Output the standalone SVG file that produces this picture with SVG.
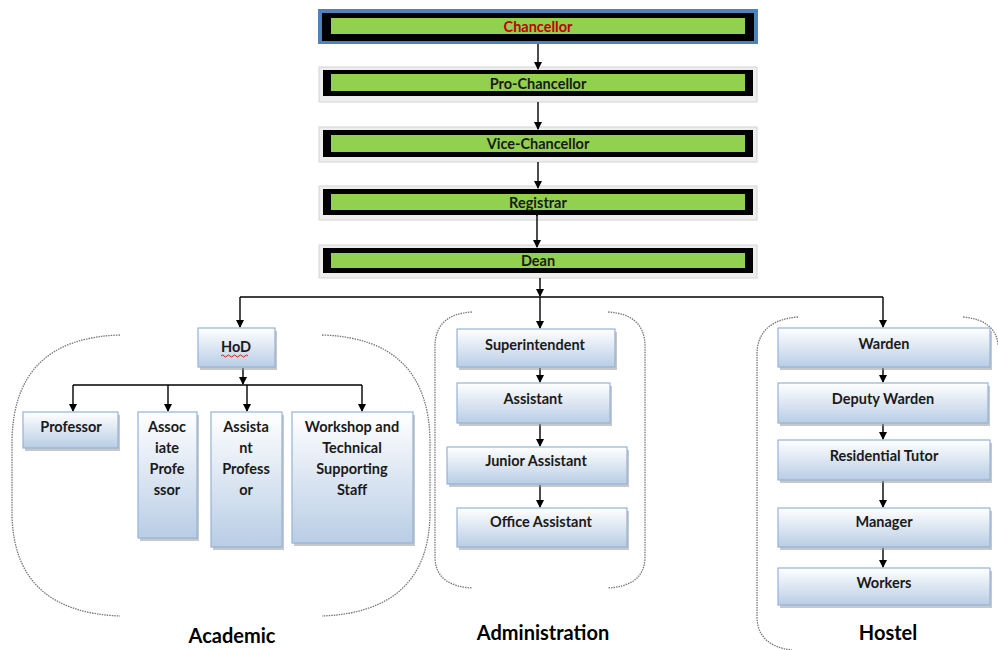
<svg xmlns="http://www.w3.org/2000/svg" width="998" height="650" viewBox="0 0 998 650">
<defs>
<linearGradient id="bg" x1="0" y1="0" x2="0" y2="1">
<stop offset="0" stop-color="#ffffff"/>
<stop offset="1" stop-color="#b9cde5"/>
</linearGradient>
<marker id="ah" markerWidth="8" markerHeight="8" refX="7" refY="4" orient="auto" markerUnits="userSpaceOnUse">
<path d="M0,0 L8,4 L0,8 Z" fill="#000"/>
</marker>
<style>
text{font-family:Lato,"Liberation Sans",Arial,sans-serif;font-weight:bold;fill:#1a1a1a;text-anchor:middle}
.t{font-size:14.5px}
.big{font-size:20px;fill:#000}
.box{fill:url(#bg);stroke:#95b3d7;stroke-width:1.2}
.sh{fill:#9a9a9a;opacity:.55}
.frame{fill:#000}
.green{fill:#92d050}
.outer{fill:#eeeeee;stroke:#d4d4d4;stroke-width:1}
.c{stroke:#000;stroke-width:1.4;fill:none}
.a{stroke:#000;stroke-width:1.4;fill:none;marker-end:url(#ah)}
.dot{stroke:#777;stroke-width:1.3;stroke-dasharray:1.5 1;fill:none}
</style>
</defs>
<rect width="998" height="650" fill="#fff"/>

<g id="brackets">
<path class="dot" d="M120,335 Q14,338 12,440 L12,515 Q14,612 120,616"/>
<path class="dot" d="M322,335 Q428,338 430,440 L430,515 Q428,612 322,616"/>
<path class="dot" d="M472,312 Q436,314 435,345 L435,558 Q436,586 472,588"/>
<path class="dot" d="M608,312 Q644,314 645,345 L645,558 Q644,586 608,588"/>
<path class="dot" d="M798,317 Q759,320 757,352 L757,618 Q758,646 792,650"/>
<path class="dot" d="M963,317 Q996,320 998,345"/>
</g>

<g id="chancellor">
<rect x="318" y="9" width="440" height="35" fill="#4f81bd"/>
<rect class="frame" x="322" y="13" width="432" height="28"/>
<rect class="green" x="331" y="18" width="414" height="16"/>
<text class="t" x="538" y="31.5" style="fill:#c00000">Chancellor</text>
</g>
<g id="pro-chancellor">
<rect class="outer" x="319" y="67" width="438" height="35"/>
<rect class="frame" x="323" y="70" width="430" height="26"/>
<rect class="green" x="331" y="74" width="414" height="17"/>
<text class="t" x="538" y="88.5">Pro-Chancellor</text>
</g>
<g id="vice-chancellor">
<rect class="outer" x="319" y="127" width="438" height="35"/>
<rect class="frame" x="323" y="130" width="430" height="27"/>
<rect class="green" x="331" y="135" width="414" height="17"/>
<text class="t" x="538" y="148.5">Vice-Chancellor</text>
</g>
<g id="registrar">
<rect class="outer" x="319" y="186" width="438" height="34"/>
<rect class="frame" x="323" y="189" width="430" height="26"/>
<rect class="green" x="331" y="194" width="414" height="16"/>
<text class="t" x="538" y="207.5">Registrar</text>
</g>
<g id="dean">
<rect class="outer" x="319" y="245" width="438" height="33"/>
<rect class="frame" x="323" y="248" width="430" height="25"/>
<rect class="green" x="331" y="253" width="414" height="15"/>
<text class="t" x="538" y="266">Dean</text>
</g>

<g id="connectors">
<line class="a" x1="538" y1="44" x2="538" y2="69"/>
<line class="a" x1="538" y1="102" x2="538" y2="129"/>
<line class="a" x1="538" y1="162" x2="538" y2="188"/>
<path class="c" d="M533,211 Q537,212 537,216"/>
<line class="a" x1="537" y1="215" x2="537" y2="247"/>
<line class="a" x1="540" y1="278" x2="540" y2="296"/>
<line class="c" x1="240" y1="297" x2="883" y2="297"/>
<line class="a" x1="240" y1="297" x2="240" y2="327"/>
<line class="a" x1="540" y1="297" x2="540" y2="328"/>
<line class="a" x1="883" y1="297" x2="883" y2="327"/>
<line class="a" x1="243" y1="368" x2="243" y2="384"/>
<line class="c" x1="73" y1="385" x2="362" y2="385"/>
<line class="a" x1="73" y1="385" x2="73" y2="411"/>
<line class="a" x1="168" y1="385" x2="168" y2="411"/>
<line class="a" x1="247" y1="385" x2="247" y2="411"/>
<line class="a" x1="362" y1="385" x2="362" y2="411"/>
<line class="a" x1="540" y1="368" x2="540" y2="382"/>
<line class="a" x1="540" y1="424" x2="540" y2="446"/>
<line class="a" x1="540" y1="485" x2="540" y2="507"/>
<line class="a" x1="883" y1="368" x2="883" y2="382"/>
<line class="a" x1="883" y1="424" x2="883" y2="439"/>
<line class="a" x1="883" y1="481" x2="883" y2="507"/>
<line class="a" x1="883" y1="548" x2="883" y2="567"/>
</g>

<g id="hod">
<rect class="sh" x="200" y="331" width="77" height="39"/>
<rect class="box" x="198" y="328" width="77" height="39"/>
<text class="t" x="236" y="352">HoD</text>
<path d="M221,356 q1.5,-2 3,0 t3,0 t3,0 t3,0 t3,0 t3,0 t3,0 t3,0 t3,0" fill="none" stroke="#e00000" stroke-width="0.9"/>
</g>
<g id="professor">
<rect class="sh" x="25" y="415" width="95" height="36"/>
<rect class="box" x="23" y="412" width="95" height="36"/>
<text class="t" x="71" y="432">Professor</text>
</g>
<g id="associate-professor">
<rect class="sh" x="140" y="415" width="59" height="126"/>
<rect class="box" x="138" y="412" width="59" height="126"/>
<text class="t" x="167" y="432">Assoc</text>
<text class="t" x="167" y="453">iate</text>
<text class="t" x="167" y="474">Profe</text>
<text class="t" x="167" y="495">ssor</text>
</g>
<g id="assistant-professor">
<rect class="sh" x="213" y="415" width="71" height="135"/>
<rect class="box" x="211" y="412" width="71" height="135"/>
<text class="t" x="246" y="432">Assista</text>
<text class="t" x="246" y="453">nt</text>
<text class="t" x="246" y="474">Profess</text>
<text class="t" x="246" y="495">or</text>
</g>
<g id="workshop">
<rect class="sh" x="294" y="415" width="121" height="131"/>
<rect class="box" x="292" y="412" width="121" height="131"/>
<text class="t" x="352" y="432">Workshop and</text>
<text class="t" x="352" y="453">Technical</text>
<text class="t" x="352" y="474">Supporting</text>
<text class="t" x="352" y="495">Staff</text>
</g>

<g id="superintendent">
<rect class="sh" x="459" y="332" width="158" height="38"/>
<rect class="box" x="457" y="329" width="158" height="38"/>
<text class="t" x="535" y="349.5">Superintendent</text>
</g>
<g id="assistant">
<rect class="sh" x="459" y="386" width="153" height="40"/>
<rect class="box" x="457" y="383" width="153" height="40"/>
<text class="t" x="533" y="403.5">Assistant</text>
</g>
<g id="junior-assistant">
<rect class="sh" x="449" y="450" width="180" height="37"/>
<rect class="box" x="447" y="447" width="180" height="37"/>
<text class="t" x="536" y="465.5">Junior Assistant</text>
</g>
<g id="office-assistant">
<rect class="sh" x="459" y="511" width="170" height="39"/>
<rect class="box" x="457" y="508" width="170" height="39"/>
<text class="t" x="541" y="526.5">Office Assistant</text>
</g>

<g id="warden">
<rect class="sh" x="780" y="331" width="212" height="39"/>
<rect class="box" x="778" y="328" width="212" height="39"/>
<text class="t" x="884" y="348.5">Warden</text>
</g>
<g id="deputy-warden">
<rect class="sh" x="780" y="386" width="210" height="40"/>
<rect class="box" x="778" y="383" width="210" height="40"/>
<text class="t" x="883" y="403.5">Deputy Warden</text>
</g>
<g id="residential-tutor">
<rect class="sh" x="780" y="443" width="212" height="40"/>
<rect class="box" x="778" y="440" width="212" height="40"/>
<text class="t" x="884" y="460.5">Residential Tutor</text>
</g>
<g id="manager">
<rect class="sh" x="780" y="511" width="212" height="39"/>
<rect class="box" x="778" y="508" width="212" height="39"/>
<text class="t" x="884" y="526.5">Manager</text>
</g>
<g id="workers">
<rect class="sh" x="780" y="571" width="212" height="37"/>
<rect class="box" x="778" y="568" width="212" height="37"/>
<text class="t" x="884" y="587.5">Workers</text>
</g>

<g id="labels">
<text class="big" x="232" y="643">Academic</text>
<text class="big" x="543" y="640">Administration</text>
<text class="big" x="888" y="640">Hostel</text>
</g>
</svg>
